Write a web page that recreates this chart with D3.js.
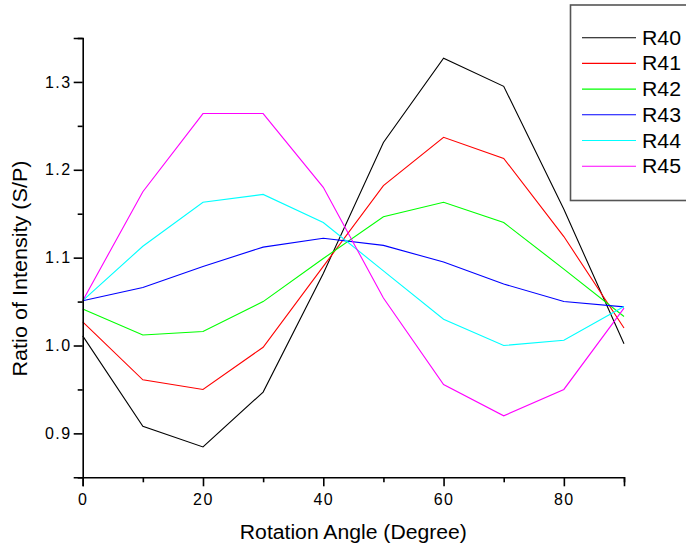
<!DOCTYPE html>
<html>
<head>
<meta charset="utf-8">
<script src="https://cdn.jsdelivr.net/npm/d3@7"></script>
<style>
  html, body { margin: 0; padding: 0; background: #fff; }
  svg { display: block; font-family: Arial, "Liberation Sans", sans-serif; }
</style>
</head>
<body>
<svg id="chart" width="686" height="548"></svg>
<script>
const angles = [0, 10, 20, 30, 40, 50, 60, 70, 80, 90];
const seriesNames = ["R40", "R41", "R42", "R43", "R44", "R45"];
const seriesColors = ["#000000", "#ff0000", "#00ff00", "#0000ff", "#00ffff", "#ff00ff"];
const R40 = [1.011, 0.908, 0.8845, 0.947, 1.082, 1.231, 1.327, 1.295, 1.155, 1.002];
const R41 = [1.027, 0.961, 0.950, 0.998, 1.090, 1.182, 1.237, 1.213, 1.124, 1.020];
const R42 = [1.0415, 1.012, 1.016, 1.050, 1.099, 1.1465, 1.163, 1.140, 1.087, 1.033];
const R43 = [1.051, 1.066, 1.090, 1.112, 1.122, 1.114, 1.095, 1.070, 1.050, 1.044];
const R44 = [1.051, 1.113, 1.163, 1.172, 1.140, 1.085, 1.030, 1.000, 1.006, 1.0445];
const R45 = [1.051, 1.175, 1.264, 1.264, 1.180, 1.054, 0.9555, 0.920, 0.950, 1.0425];
const xMajorTicks = [0, 20, 40, 60, 80];
const xMinorTicks = [10, 30, 50, 70, 90];
const yMajorTicks = [0.9, 1.0, 1.1, 1.2, 1.3];
const yMinorTicks = [0.85, 0.95, 1.05, 1.15, 1.25, 1.35];
const xTitle = "Rotation Angle (Degree)";
const yTitle = "Ratio of Intensity (S/P)";

const allSeries = [R40, R41, R42, R43, R44, R45];

const svg = d3.select("#chart");
const plotLeft = 82.7, plotRight = 624, plotTop = 38, plotBottom = 477.3;

const x = d3.scaleLinear().domain([0, 90]).range([plotLeft, plotRight]);
const y = d3.scaleLinear().domain([0.85, 1.35]).range([plotBottom, plotTop]);

// data lines
const line = d3.line().x((d, i) => x(angles[i])).y(d => y(d));
allSeries.forEach((s, k) => {
  svg.append("path")
    .datum(s)
    .attr("d", line)
    .attr("fill", "none")
    .attr("stroke", seriesColors[k])
    .attr("stroke-width", 1.1);
});

// axes
const xAxis = svg.append("g").attr("transform", `translate(0,${plotBottom})`)
  .call(d3.axisBottom(x).tickValues(xMajorTicks).tickSize(9).tickPadding(7).tickFormat(d3.format("d")));
const xMinor = svg.append("g").attr("transform", `translate(0,${plotBottom})`)
  .call(d3.axisBottom(x).tickValues(xMinorTicks).tickSize(5).tickFormat(""));
const yAxis = svg.append("g").attr("transform", `translate(${plotLeft},0)`)
  .call(d3.axisLeft(y).tickValues(yMajorTicks).tickSize(9).tickPadding(2).tickFormat(d3.format(".1f")));
const yMinor = svg.append("g").attr("transform", `translate(${plotLeft},0)`)
  .call(d3.axisLeft(y).tickValues(yMinorTicks).tickSize(5).tickFormat(""));

[xAxis, xMinor, yAxis, yMinor].forEach(g => {
  g.selectAll(".domain").attr("stroke", "#000").attr("stroke-width", 1.6);
  g.selectAll(".tick line").attr("stroke", "#000").attr("stroke-width", 1.6);
  g.selectAll(".tick text").attr("fill", "#000").style("font-size", "16px")
    .style("letter-spacing", "1.5px")
    .style("font-family", "Arial, 'Liberation Sans', sans-serif");
});
xMinor.select(".domain").remove();
yMinor.select(".domain").remove();

// titles
svg.append("text")
  .attr("x", (plotLeft + plotRight) / 2).attr("y", 539)
  .attr("text-anchor", "middle")
  .attr("textLength", 227).attr("lengthAdjust", "spacingAndGlyphs")
  .style("font-size", "20px")
  .text(xTitle);
svg.append("text")
  .attr("transform", `translate(27.3,268.5) rotate(-90)`)
  .attr("text-anchor", "middle")
  .attr("textLength", 216).attr("lengthAdjust", "spacingAndGlyphs")
  .style("font-size", "20.5px")
  .text(yTitle);

// legend
const lg = svg.append("g");
lg.append("rect")
  .attr("x", 570.5).attr("y", 5).attr("width", 130).attr("height", 195.5)
  .attr("fill", "#fff").attr("stroke", "#555").attr("stroke-width", 1.6);
seriesNames.forEach((name, i) => {
  const cy = 37.7 + i * 25.7;
  lg.append("line").attr("x1", 582).attr("x2", 636).attr("y1", cy).attr("y2", cy)
    .attr("stroke", seriesColors[i]).attr("stroke-width", 1.1);
  lg.append("text").attr("x", 642).attr("y", cy + 7)
    .attr("textLength", 39).attr("lengthAdjust", "spacingAndGlyphs")
    .style("font-size", "20px").text(name);
});
</script>
</body>
</html>
